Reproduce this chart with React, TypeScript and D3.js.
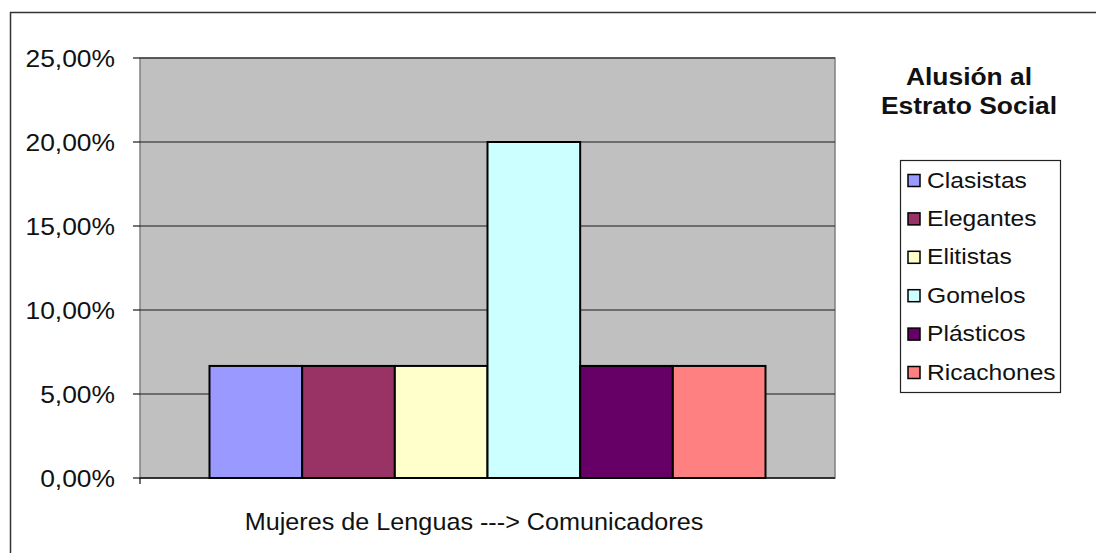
import React from "react";
import * as d3 from "d3";

const series = ["Clasistas", "Elegantes", "Elitistas", "Gomelos", "Plásticos", "Ricachones"];
const values = [0.0667, 0.0667, 0.0667, 0.2, 0.0667, 0.0667];
const colors = ["#9999FF", "#993366", "#FFFFCC", "#CCFFFF", "#660066", "#FF8080"];
const yTicks = [0, 0.05, 0.1, 0.15, 0.2, 0.25];
const category = "Mujeres de Lenguas ---> Comunicadores";
const legendTitle = ["Alusión al", "Estrato Social"];

const W = 1096, H = 553;
const plot = { left: 140, right: 835, top: 58, bottom: 478 };
const font = "'Liberation Sans', Arial, sans-serif";
const SX = 1.1;

export default function App() {
  const y = d3.scaleLinear().domain([0, 0.25]).range([plot.bottom, plot.top]);
  const gap = (plot.right - plot.left) / 7.5 * 0.75;
  const x = d3.scaleBand<string>().domain(series).range([plot.left + gap, plot.right - gap]).padding(0);
  const fmt = (v: number) => (v * 100).toFixed(2).replace(".", ",") + "%";
  return (
    <svg width={W} height={H} style={{ position: "absolute", left: 0, top: 0, display: "block" }} fontFamily={font}>
      <rect x={0} y={0} width={W} height={H} fill="#fff" />
      <rect x={10.5} y={12.5} width={W} height={H} fill="#fff" stroke="#333" strokeWidth={1.5} />
      <rect x={plot.left} y={plot.top} width={plot.right - plot.left} height={plot.bottom - plot.top} fill="#C0C0C0" stroke="#808080" strokeWidth={1.5} />
      {yTicks.map((t) => (
        <g key={t}>
          {t > 0 && <line x1={plot.left} x2={plot.right} y1={y(t)} y2={y(t)} stroke="#1a1a1a" strokeWidth={1.2} />}
          <line x1={133} x2={plot.left} y1={y(t)} y2={y(t)} stroke="#1a1a1a" strokeWidth={1.2} />
          <text transform={`translate(115, ${y(t)}) scale(${SX},1)`} dy="0.36em" textAnchor="end" fontSize={24} fill="#111">{fmt(t)}</text>
        </g>
      ))}
      <line x1={plot.left} x2={plot.right} y1={plot.bottom} y2={plot.bottom} stroke="#111" strokeWidth={1.5} />
      <line x1={plot.left} x2={plot.left} y1={plot.bottom} y2={plot.bottom + 6} stroke="#111" strokeWidth={1.2} />
      {series.map((s, i) => (
        <rect key={s} x={x(s)} y={y(values[i])} width={x.bandwidth()} height={plot.bottom - y(values[i])} fill={colors[i]} stroke="#000" strokeWidth={2} />
      ))}
      <text transform={`translate(474, 530) scale(1.05,1)`} textAnchor="middle" fontSize={24} fill="#111">{category}</text>
      {legendTitle.map((t, i) => (
        <text key={t} transform={`translate(969, ${85 + i * 29}) scale(${SX},1)`} textAnchor="middle" fontSize={24} fontWeight="bold" fill="#111">{t}</text>
      ))}
      <rect x={900.5} y={160.5} width={160} height={232} fill="#fff" stroke="#222" strokeWidth={1.2} />
      {series.map((s, i) => (
        <g key={s} transform={`translate(0, ${187.5 + i * 38.4})`}>
          <rect x={908} y={-13} width={12} height={12} fill={colors[i]} stroke="#000" strokeWidth={1.5} />
          <text transform={`translate(927, 0) scale(1.12,1)`} fontSize={22} fill="#111">{s}</text>
        </g>
      ))}
    </svg>
  );
}
